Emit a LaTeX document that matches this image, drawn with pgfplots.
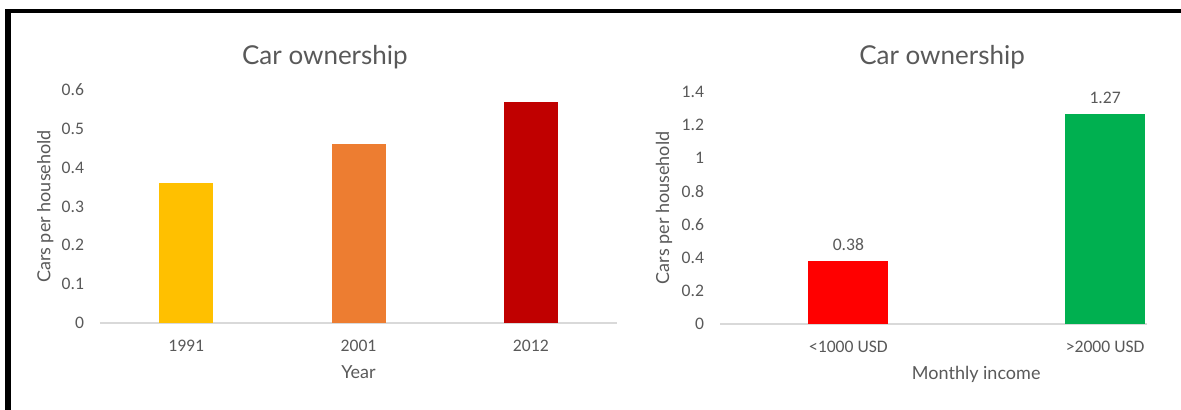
\documentclass[border=0pt]{standalone}
\usepackage{fontspec}
\setmainfont{Lato}
\newfontfamily\carlito{Carlito}
\usepackage{pgfplots}
\pgfplotsset{compat=1.18}
\definecolor{txt}{HTML}{595959}
\definecolor{axgray}{HTML}{D9D9D9}
\definecolor{c1991}{HTML}{FFC000}
\definecolor{c2001}{HTML}{ED7D31}
\definecolor{c2012}{HTML}{C00000}
\definecolor{clow}{HTML}{FF0000}
\definecolor{chigh}{HTML}{00B050}
\pgfplotsset{
  cstyle/.style={
    scale only axis, anchor=south west,
    ybar, bar shift=0pt,
    axis x line=bottom, axis y line=left,
    x axis line style={draw=axgray, line width=0.8pt, -},
    y axis line style={draw=none},
    major tick length=0pt, tick style={draw=none},
    ymin=0,
    every axis title shift=0pt,
    /pgf/number format/assume math mode=true,
    yticklabel style={font=\carlito\fontsize{8.8}{10}\selectfont, text=txt, xshift=-4.5pt,
      /pgf/number format/fixed, /pgf/number format/precision=1},
    xticklabel style={font=\carlito\fontsize{8.8}{10}\selectfont, text=txt, yshift=-5pt},
    title style={font=\fontsize{13}{15}\selectfont, text=txt, anchor=center},
    xlabel style={font=\fontsize{9}{11}\selectfont, text=txt, anchor=center},
    ylabel style={font=\fontsize{9}{11}\selectfont, text=txt, anchor=center},
    every axis plot/.append style={draw=none},
  }
}
\begin{document}
\begin{tikzpicture}
\useasboundingbox (0,0) rectangle (590.5pt,205pt);
\fill[black] (2.5pt,0) rectangle (5.5pt,200.5pt);
\fill[black] (2.5pt,198.25pt) rectangle (590.5pt,200.5pt);
% Left chart
\begin{axis}[cstyle,
  at={(50pt,43.5pt)}, width=258.5pt, height=116.5pt,
  xmin=-0.5, xmax=2.5, ymax=0.6,
  ytick={0,0.1,0.2,0.3,0.4,0.5,0.6},
  xtick={0,1,2}, xticklabels={1991,2001,2012},
  bar width=27pt,
  title={Car ownership},
  title style={at={(axis description cs:0.435,1.142)}},
  xlabel={Year},
  xlabel style={at={(axis description cs:0.5,-0.21)}},
  ylabel={Cars per household},
  ylabel style={at={(axis description cs:-0.106,0.5)}},
]
\addplot[fill=c1991] coordinates {(0,0.36)};
\addplot[fill=c2001] coordinates {(1,0.46)};
\addplot[fill=c2012] coordinates {(2,0.57)};
\end{axis}
% Right chart
\begin{axis}[cstyle,
  at={(360pt,43pt)}, width=213.5pt, height=116pt,
  xmin=-0.5, xmax=1.163, ymax=1.4,
  ytick={0,0.2,0.4,0.6,0.8,1,1.2,1.4},
  xtick={0,1}, xticklabels={<1000 USD,>2000 USD},
  bar width=40pt,
  title={Car ownership},
  title style={at={(axis description cs:0.52,1.151)}},
  xlabel={Monthly income},
  xlabel style={at={(axis description cs:0.6,-0.2155)}},
  ylabel={Cars per household},
  ylabel style={at={(axis description cs:-0.1312,0.5)}},
  nodes near coords,
  nodes near coords style={font=\carlito\fontsize{8.8}{10}\selectfont, text=txt, anchor=south, yshift=1.5pt,
     /pgf/number format/fixed, /pgf/number format/precision=2, /pgf/number format/fixed zerofill},
]
\addplot[fill=clow] coordinates {(0,0.38)};
\addplot[fill=chigh] coordinates {(1,1.27)};
\end{axis}
\end{tikzpicture}
\end{document}
